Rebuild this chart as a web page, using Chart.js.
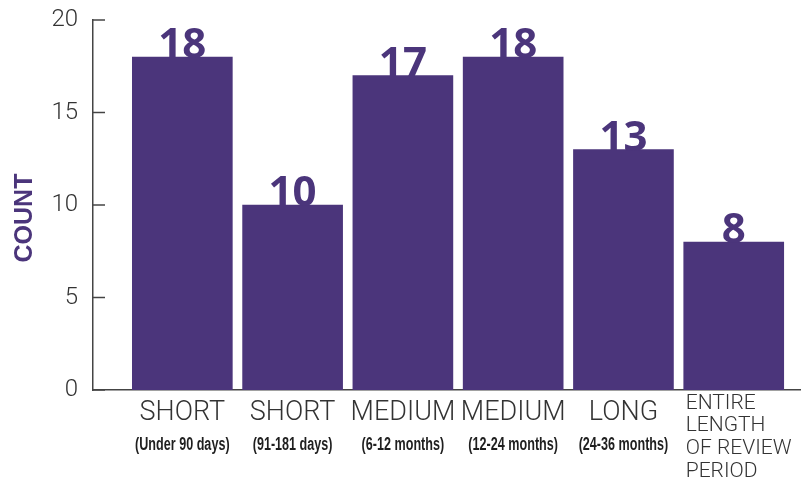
<!DOCTYPE html>
<html>
<head>
<meta charset="utf-8">
<script src="https://cdn.jsdelivr.net/npm/chart.js@4.4.0/dist/chart.umd.min.js"></script>
<style>
    html, body { margin: 0; padding: 0; background: #ffffff; }
    canvas { display: block; }
</style>
</head>
<body>
<canvas id="durationChart" width="801" height="492"></canvas>
<script>
// Review duration chart - count of items per duration bucket

const durationNames = ['SHORT', 'SHORT', 'MEDIUM', 'MEDIUM', 'LONG', ['ENTIRE', 'LENGTH', 'OF REVIEW', 'PERIOD']];
const durationRanges = ['(Under 90 days)', '(91-181 days)', '(6-12 months)', '(12-24 months)', '(24-36 months)', ''];
const counts = [18, 10, 17, 18, 13, 8];
const countTicks = [0, 5, 10, 15, 20];

const barColor = '#4b357b';
const inkColor = '#333333';
const rangeColor = '#1f1f1f';
const axisColor = '#444444';

// Inward tick marks, axis title, category labels and value labels
const chartDecorations = {
    id: 'chartDecorations',
    afterDatasetsDraw(chart) {
        const ctx = chart.ctx;
        const meta = chart.getDatasetMeta(0);
        ctx.save();
        ctx.fillStyle = barColor;
        ctx.font = 'bold 42px "Open Sans", sans-serif';
        ctx.textAlign = 'center';
        ctx.textBaseline = 'alphabetic';
        meta.data.forEach((bar, i) => {
            ctx.fillText(String(counts[i]), bar.x, bar.y + 1);
        });
        ctx.restore();
    },
    afterDraw(chart) {
        const ctx = chart.ctx;
        const area = chart.chartArea;
        const yScale = chart.scales.y;
        const xScale = chart.scales.x;
        ctx.save();

        // tick marks point into the plot
        ctx.strokeStyle = axisColor;
        ctx.lineWidth = 1.5;
        countTicks.forEach(v => {
            const y = yScale.getPixelForValue(v);
            ctx.beginPath();
            ctx.moveTo(area.left, y);
            ctx.lineTo(area.left + 12, y);
            ctx.stroke();
        });

        // y axis title
        ctx.fillStyle = barColor;
        ctx.font = 'bold 25px "Liberation Sans", Arial, sans-serif';
        ctx.textAlign = 'center';
        ctx.textBaseline = 'middle';
        ctx.translate(25, (area.top + area.bottom) / 2 + 13);
        ctx.rotate(-Math.PI / 2);
        ctx.fillText('COUNT', 0, 0);
        ctx.setTransform(1, 0, 0, 1, 0, 0);

        // category labels under each bar
        durationNames.forEach((name, i) => {
            const cx = xScale.getPixelForValue(i);
            ctx.fillStyle = inkColor;
            if (Array.isArray(name)) {
                ctx.font = '300 21px Roboto, sans-serif';
                ctx.textAlign = 'left';
                name.forEach((line, j) => {
                    ctx.fillText(line, cx - 48, area.bottom + 13.5 + j * 22.7);
                });
            } else {
                ctx.font = '300 27px Roboto, sans-serif';
                ctx.textAlign = 'center';
                ctx.fillText(name, cx, area.bottom + 23);
            }
            if (durationRanges[i]) {
                // narrow bold face, squeezed sideways
                ctx.save();
                ctx.fillStyle = rangeColor;
                ctx.translate(cx, area.bottom + 55);
                ctx.scale(0.72, 1);
                ctx.font = 'bold 17.5px "Liberation Sans", Arial, sans-serif';
                ctx.textAlign = 'center';
                ctx.fillText(durationRanges[i], 0, 0);
                ctx.restore();
            }
        });
        ctx.restore();
    }
};

function renderDurationChart() {
    const ctx = document.getElementById('durationChart');
    if (!ctx) return;

    new Chart(ctx, {
        type: 'bar',
        data: {
            datasets: [{
                data: counts.map((c, i) => ({ x: i, y: c })),
                backgroundColor: barColor,
                borderWidth: 0,
                barThickness: 100
            }]
        },
        options: {
            responsive: false,
            animation: false,
            layout: {
                padding: { top: 20, bottom: 102, left: 0, right: 0 }
            },
            scales: {
                x: {
                    type: 'linear',
                    min: -0.81,
                    max: 5.61,
                    offset: false,
                    ticks: { display: false },
                    grid: { display: false, drawTicks: false, offset: false },
                    border: { display: true, color: axisColor, width: 1.5 },
                    afterFit: function(scale) {
                        scale.height = 0;
                    }
                },
                y: {
                    min: 0,
                    max: 20,
                    afterBuildTicks: function(scale) {
                        scale.ticks = countTicks.map(v => ({ value: v }));
                    },
                    ticks: {
                        color: inkColor,
                        padding: 15,
                        font: { family: 'Roboto', weight: '300', size: 24 }
                    },
                    grid: { display: false, drawTicks: false },
                    border: { display: true, color: axisColor, width: 1.5 },
                    afterFit: function(scale) {
                        scale.width = 93;
                        scale.paddingTop = 0;
                        scale.paddingBottom = 0;
                    }
                }
            },
            plugins: {
                legend: { display: false },
                tooltip: { enabled: false }
            }
        },
        plugins: [chartDecorations]
    });
}

renderDurationChart();
</script>
</body>
</html>
